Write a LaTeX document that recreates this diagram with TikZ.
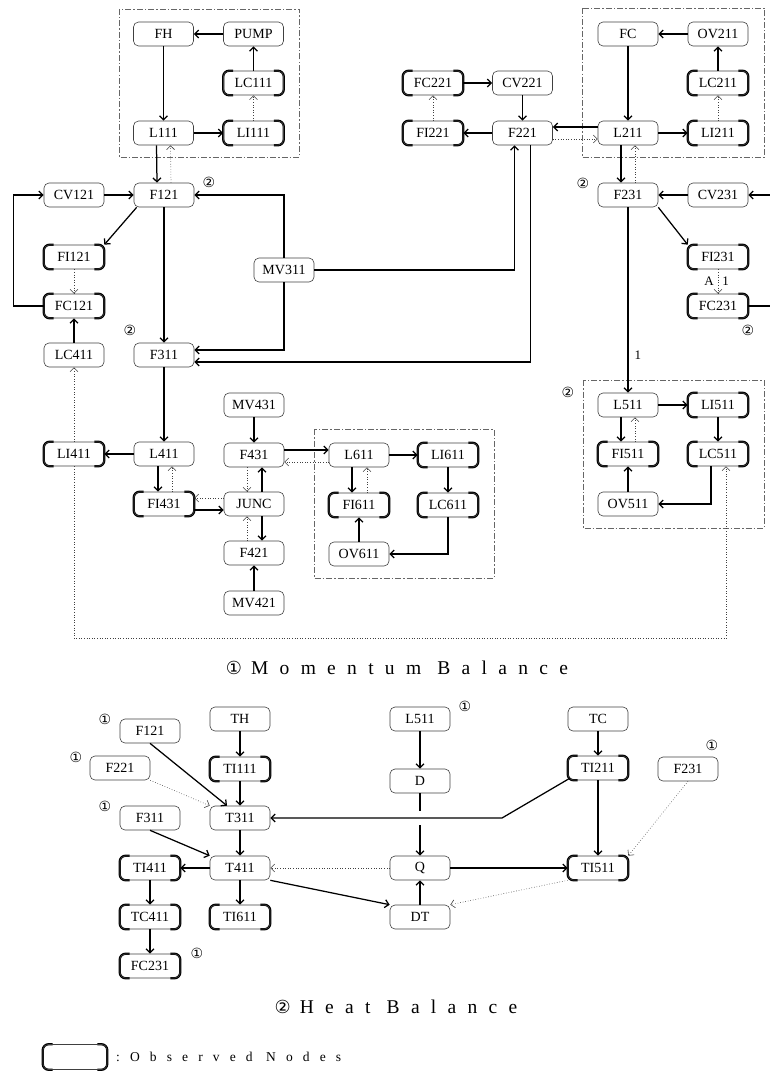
\documentclass[tikz,border=0pt]{standalone}
\usepackage{fontspec}
\setmainfont{Liberation Serif}
\newfontfamily\symfont{DejaVu Sans}
\newfontfamily\titlefont[LetterSpace=58]{Liberation Serif}
\newfontfamily\legfont[LetterSpace=75]{Liberation Serif}
\usetikzlibrary{arrows.meta}
\begin{document}
\begin{tikzpicture}[x=1pt,y=-1pt,
  box/.style={draw=black!75, line width=0.6pt, rounded corners=5pt, minimum width=60pt, minimum height=24pt, inner sep=0pt, font=\fontsize{14}{14}\selectfont},
  obs/.style={box, append after command={\pgfextra{\let\LN\tikzlastnode
     \draw[line width=2.3pt, rounded corners=6pt] ([xshift=10pt]\LN.north west) -- (\LN.north west) -- (\LN.south west) -- ([xshift=10pt]\LN.south west);
     \draw[line width=2.3pt, rounded corners=6pt] ([xshift=-10pt]\LN.north east) -- (\LN.north east) -- (\LN.south east) -- ([xshift=-10pt]\LN.south east);}}},
  arr/.style={-{Straight Barb[length=4pt,width=8pt]}, line width=1.25pt},
  darr/.style={-{Straight Barb[length=4pt,width=8pt]}, line width=0.6pt, dotted, draw=black!75},
  ddbox/.style={draw=black!60, line width=0.6pt, dash pattern=on 6pt off 2pt on 1.5pt off 2pt},
  circ/.style={font=\symfont\fontsize{14}{14}\selectfont, inner sep=0pt},
  lbl/.style={font=\fontsize{13}{13}\selectfont, inner sep=1pt}
]
\useasboundingbox (0,0) rectangle (769,1073);

% dash-dot groups
\draw[ddbox] (119,9) rectangle (299,157);
\draw[ddbox] (582,8) rectangle (764,157);
\draw[ddbox] (314,429) rectangle (494,578);
\draw[ddbox] (583,380) rectangle (764,528);

% ---------- Momentum balance nodes ----------
\node[box] (FH) at (163.5,34) {FH};
\node[box] (PUMP) at (253.5,34) {PUMP};
\node[obs] (LC111) at (253.5,83) {LC111};
\node[box] (L111) at (163.5,133) {L111};
\node[obs] (LI111) at (253.5,133) {LI111};
\node[box] (F121) at (164,195) {F121};
\node[box] (CV121) at (74,195) {CV121};
\node[obs] (FI121) at (74,257) {FI121};
\node[obs] (FC121) at (74,306) {FC121};
\node[box] (LC411) at (74,355) {LC411};
\node[box] (F311) at (164,355) {F311};
\node[box] (MV311) at (284,270) {MV311};
\node[obs] (FC221) at (433,83) {FC221};
\node[box] (CV221) at (522.5,83) {CV221};
\node[obs] (FI221) at (433,133) {FI221};
\node[box] (F221) at (522.5,133) {F221};
\node[box] (FC) at (628,34) {FC};
\node[box] (OV211) at (718,34) {OV211};
\node[obs] (LC211) at (718,83) {LC211};
\node[box] (L211) at (628,133) {L211};
\node[obs] (LI211) at (718,133) {LI211};
\node[box] (F231) at (628,195) {F231};
\node[box] (CV231) at (718,195) {CV231};
\node[obs] (FI231) at (718,257) {FI231};
\node[obs] (FC231) at (718,306) {FC231};
\node[box] (L511) at (628,405) {L511};
\node[obs] (LI511) at (718,405) {LI511};
\node[obs] (FI511) at (628,454) {FI511};
\node[obs] (LC511) at (718,454) {LC511};
\node[box] (OV511) at (628,504) {OV511};
\node[obs] (LI411) at (74,454) {LI411};
\node[box] (L411) at (164,454) {L411};
\node[obs] (FI431) at (164,504) {FI431};
\node[box] (MV431) at (254,405) {MV431};
\node[box] (F431) at (254,455) {F431};
\node[box] (JUNC) at (254,504) {JUNC};
\node[box] (F421) at (254,553) {F421};
\node[box] (MV421) at (254,603) {MV421};
\node[box] (L611) at (359,455) {L611};
\node[obs] (LI611) at (448,455) {LI611};
\node[obs] (FI611) at (359,505) {FI611};
\node[obs] (LC611) at (448,505) {LC611};
\node[box] (OV611) at (359,554) {OV611};

\node[circ] (c2a) at (209,182) {②};
\node[circ] (c2b) at (130,330) {②};
\node[circ] (c2c) at (583,183) {②};
\node[circ] (c2d) at (748,330) {②};
\node[circ] (c2e) at (568,392) {②};

% ---------- Momentum balance edges ----------
\draw[arr] (PUMP) -- (FH);
\draw[arr] (LC111) -- (PUMP);
\draw[darr] (LI111) -- (LC111);
\draw[arr] (FH) -- (L111);
\draw[arr] (L111) -- (LI111);
\draw[arr] ([xshift=-7pt]L111.south) -- ([xshift=-7pt]F121.north);
\draw[darr] ([xshift=7pt]F121.north) -- ([xshift=7pt]L111.south);
\draw[arr] (CV121) -- (F121);
\draw[arr] ([xshift=3pt]F121.south west) -- (FI121.north east);
\draw[darr] (FI121) -- (FC121);
\draw[arr] (FC121.west) -- ++(-30,0) |- (CV121.west);
\draw[arr] (LC411) -- (FC121);
\draw[arr] (F121) -- (F311);
\draw[arr] (MV311.north) |- (F121.east);
\draw[arr] (MV311.south) |- ([yshift=5pt]F311.east);
\draw[arr] (MV311.east) -| ([xshift=-8pt]F221.south);
\draw[arr] ([xshift=8pt]F221.south) |- ([yshift=-7pt]F311.east);
\draw[arr] (FC221) -- (CV221);
\draw[darr] (FI221) -- (FC221);
\draw[arr] (CV221) -- (F221);
\draw[arr] (F221) -- (FI221);
\draw[arr] ([yshift=6pt]L211.west) -- ([yshift=6pt]F221.east);
\draw[darr] ([yshift=-6pt]F221.east) -- ([yshift=-6pt]L211.west);
\draw[arr] (OV211) -- (FC);
\draw[arr] (LC211) -- (OV211);
\draw[darr] (LI211) -- (LC211);
\draw[arr] (FC) -- (L211);
\draw[arr] (L211) -- (LI211);
\draw[arr] ([xshift=-7pt]L211.south) -- ([xshift=-7pt]F231.north);
\draw[darr] ([xshift=7pt]F231.north) -- ([xshift=7pt]L211.south);
\draw[arr] (CV231) -- (F231);
\draw[arr] (F231.south east) -- (FI231.north west);
\draw[darr] (FI231) -- node[lbl, left=3pt]{A} node[lbl, right=3pt]{1} (FC231);
\draw[arr] (FC231.east) -- ++(30,0) |- (CV231.east);
\draw[arr] (F231) -- node[lbl, right=5pt, pos=0.8]{1} (L511);
\draw[arr] (L511) -- (LI511);
\draw[arr] ([xshift=-7pt]L511.south) -- ([xshift=-7pt]FI511.north);
\draw[darr] ([xshift=7pt]FI511.north) -- ([xshift=7pt]L511.south);
\draw[arr] (LI511) -- (LC511);
\draw[arr] ([xshift=-7pt]LC511.south) |- (OV511.east);
\draw[arr] (OV511) -- (FI511);
\draw[darr] (LI411.south) -- ++(0,172) -| ([xshift=8pt]LC511.south);
\draw[darr] (LI411) -- (LC411);
\draw[arr] (F311) -- (L411);
\draw[arr] (L411) -- (LI411);
\draw[arr] ([xshift=-6pt]L411.south) -- ([xshift=-6pt]FI431.north);
\draw[darr] ([xshift=8pt]FI431.north) -- ([xshift=8pt]L411.south);
\draw[darr] ([yshift=6pt]JUNC.west) -- ([yshift=6pt]FI431.east);
\draw[arr] ([yshift=-6pt]FI431.east) -- ([yshift=-6pt]JUNC.west);
\draw[arr] (MV431) -- (F431);
\draw[arr] ([xshift=8pt]JUNC.north) -- ([xshift=8pt]F431.south);
\draw[darr] ([xshift=-7pt]F431.south) -- ([xshift=-7pt]JUNC.north);
\draw[arr] ([xshift=8pt]JUNC.south) -- ([xshift=8pt]F421.north);
\draw[darr] ([xshift=-7pt]F421.north) -- ([xshift=-7pt]JUNC.south);
\draw[arr] (MV421) -- (F421);
\draw[arr] ([yshift=5pt]F431.east) -- ([yshift=5pt]L611.west);
\draw[darr] ([yshift=-7pt]L611.west) -- ([yshift=-7pt]F431.east);
\draw[arr] (L611) -- (LI611);
\draw[arr] ([xshift=-7pt]L611.south) -- ([xshift=-7pt]FI611.north);
\draw[darr] ([xshift=8pt]FI611.north) -- ([xshift=8pt]L611.south);
\draw[arr] (LI611) -- (LC611);
\draw[arr] (LC611.south) |- (OV611.east);
\draw[arr] (OV611) -- (FI611);

\node (title1) at (397,668) {{\symfont\fontsize{18}{18}\selectfont ①}\hspace{9pt}{\titlefont\fontsize{19.5}{19.5}\selectfont Momentum Balance}};

% ---------- Heat balance ----------
\node[box] (hF121) at (150,731) {F121};
\node[box] (TH) at (240,719) {TH};
\node[obs] (TI111) at (240,769) {TI111};
\node[box] (hF221) at (120,768) {F221};
\node[box] (T311) at (240,818) {T311};
\node[box] (hF311) at (150,818) {F311};
\node[box] (T411) at (240,868) {T411};
\node[obs] (TI411) at (150,868) {TI411};
\node[obs] (TC411) at (150,917) {TC411};
\node[obs] (TI611) at (240,917) {TI611};
\node[obs] (hFC231) at (150,966) {FC231};
\node[box] (hL511) at (420,719) {L511};
\node[box] (D) at (420,781) {D};
\node[box] (TC) at (598,719) {TC};
\node[obs] (TI211) at (598,768) {TI211};
\node[box] (hF231) at (688,769) {F231};
\node[box] (Q) at (420,868) {Q};
\node[box] (DT) at (420,917) {DT};
\node[obs] (TI511) at (598,868) {TI511};

\node[circ] (c1a) at (105,719) {①};
\node[circ] (c1b) at (76,757) {①};
\node[circ] (c1c) at (105,806) {①};
\node[circ] (c1d) at (197,953) {①};
\node[circ] (c1e) at (465,706) {①};
\node[circ] (c1f) at (712,745) {①};

\draw[arr] (hF121.south) -- ([xshift=-13pt]T311.north);
\draw[darr] (hF221.south east) -- (T311.north west);
\draw[arr] (TH) -- (TI111);
\draw[arr] (TI111) -- (T311);
\draw[arr] (T311) -- (T411);
\draw[arr] (hF311.south) -- (T411.north west);
\draw[arr] (T411) -- (TI411);
\draw[arr] (TI411) -- (TC411);
\draw[arr] (TC411) -- (hFC231);
\draw[arr] (T411) -- (TI611);
\draw[arr] (hL511) -- (D);
\draw[arr] (D) -- (Q);
\fill[white] (415,811) rectangle (425,825);
\draw[arr] ([xshift=2pt,yshift=2pt]TI211.south west) -- (502,818) -- (T311.east);
\draw[arr] (TC) -- (TI211);
\draw[arr] (TI211) -- (TI511);
\draw[darr] (hF231.south) -- (TI511.north east);
\draw[darr] (Q) -- (T411);
\draw[arr] (Q) -- (TI511);
\draw[arr] (DT) -- (Q);
\draw[arr] (T411.south east) -- (DT.north west);
\draw[darr] (TI511.south west) -- (DT.north east);

\node (title2) at (396,1007) {{\symfont\fontsize{18}{18}\selectfont ②}\hspace{9pt}{\titlefont\fontsize{19.5}{19.5}\selectfont Heat Balance}};

% legend
\node[obs, minimum width=64pt, minimum height=25pt] (legbox) at (75,1057) {};
\node[anchor=west, inner sep=0pt] (legtext) at (116,1057) {\legfont\fontsize{13.5}{13.5}\selectfont :Observed Nodes};
\end{tikzpicture}
\end{document}
